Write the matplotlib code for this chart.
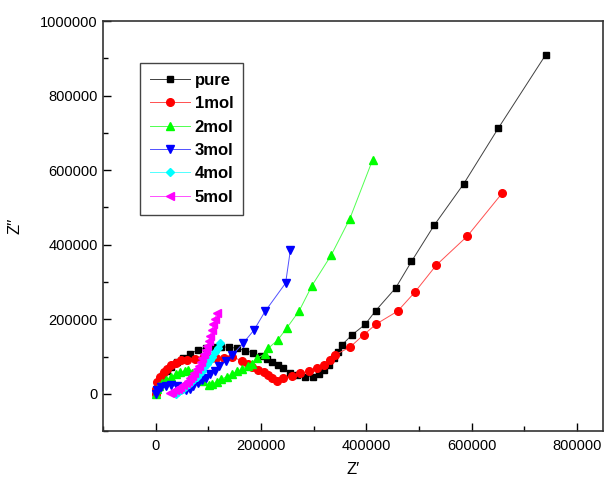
import numpy as np
import matplotlib.pyplot as plt
from matplotlib.ticker import MultipleLocator

plt.rcParams['font.family'] = ['Liberation Sans', 'DejaVu Sans']

# Nyquist data (Z', Z'')
pure_x = [0, 2000, 5000, 9000, 15000, 22000, 30000, 40000, 52000, 66000, 80000, 95000,
          110000, 125000, 140000, 155000, 170000, 185000, 200000, 212000, 222000, 232000,
          243000, 256000, 268000, 284000, 299000, 310000, 319000, 329000, 338000, 346000,
          354000, 373000, 398000, 418000, 456000, 486000, 529000, 585000, 651000, 741000]
pure_y = [0, 12000, 25000, 37000, 50000, 62000, 73000, 84000, 97000, 108000, 117000, 123000,
          126000, 126000, 125000, 122000, 116000, 110000, 101000, 92000, 85000, 78000,
          68000, 56000, 50000, 46000, 46000, 53000, 63000, 77000, 95000, 113000,
          131000, 158000, 186000, 223000, 284000, 355000, 452000, 563000, 713000, 910000]

mol1_x = [0, 1000, 3600, 9000, 16000, 22000, 29000, 38000, 48000, 60000, 75000, 90000,
          105000, 114000, 130000, 145000, 164000, 175000, 184000, 195000, 206000, 214000,
          221000, 231000, 243000, 259000, 275000, 291000, 307000, 319000, 331000, 341000,
          370000, 395000, 419000, 460000, 492000, 533000, 592000, 658000]
mol1_y = [0, 14000, 32000, 46000, 59000, 66000, 77000, 83000, 90000, 91000, 94000, 96000,
          96000, 95000, 97000, 100000, 88000, 80000, 72000, 65000, 58000, 50000,
          41000, 33000, 41000, 48000, 55000, 61000, 68000, 77000, 90000, 104000,
          126000, 158000, 187000, 222000, 272000, 345000, 423000, 538000]

mol2_x = [0, 3000, 7000, 13000, 20000, 29000, 38000, 47000, 56000, 62000, 70000, 80000,
          90000, 101000, 108000, 116000, 125000, 135000, 145000, 155000, 165000, 175000,
          183000, 192000, 208000, 214000, 232000, 249000, 273000, 297000, 334000, 369000, 412000]
mol2_y = [0, 12000, 22000, 29000, 37000, 45000, 52000, 58000, 62000, 63000, 56000, 45000,
          33000, 24000, 26000, 32000, 39000, 46000, 53000, 60000, 67000, 74000,
          81000, 95000, 107000, 122000, 144000, 176000, 223000, 290000, 373000, 470000, 627000]

mol3_x = [0, 3000, 10000, 20000, 30000, 40000, 50000, 58000, 65000, 72000, 80000, 88000,
          95000, 103000, 112000, 120000, 133000, 146000, 166000, 187000, 208000, 247000, 256000]
mol3_y = [0, 10000, 18000, 22000, 23000, 20000, 14000, 10000, 14000, 20000, 28000, 36000,
          43000, 52000, 62000, 75000, 88000, 104000, 135000, 171000, 221000, 297000, 385000]

mol4_x = [38000, 43000, 48000, 53000, 58000, 63000, 68000, 73000, 78000, 83000, 88000,
          93000, 98000, 103000, 108000, 113000, 118000, 123000]
mol4_y = [0, 4000, 9000, 14000, 20000, 26000, 32000, 39000, 46000, 54000, 62000,
          71000, 80000, 90000, 100000, 111000, 123000, 135000]

mol5_x = [27000, 32000, 37000, 42000, 47000, 52000, 57000, 62000, 66000, 70000, 74000, 78000,
          82000, 86000, 89000, 92000, 95000, 98000, 101000, 104000, 107000, 110000, 113000, 116000]
mol5_y = [1000, 5000, 9000, 13000, 18000, 23000, 29000, 35000, 42000, 49000, 57000, 66000,
          75000, 85000, 95000, 106000, 117000, 129000, 142000, 156000, 171000, 186000, 201000, 216000]

labels = ['pure', '1mol', '2mol', '3mol', '4mol', '5mol']

fig = plt.figure(figsize=(6.05, 4.8), dpi=100)
ax = fig.add_axes([0.170, 0.102, 0.827, 0.854])

lw = 0.7
ax.plot(pure_x, pure_y, color='#404040', lw=lw, marker='s', ms=5,
        mfc='black', mec='black', label=labels[0])
ax.plot(mol1_x, mol1_y, color='#ff5050', lw=lw, marker='o', ms=5.5,
        mfc='red', mec='red', label=labels[1])
ax.plot(mol2_x, mol2_y, color='#50ff50', lw=lw, marker='^', ms=6,
        mfc='#00ff00', mec='#00ff00', label=labels[2])
ax.plot(mol3_x, mol3_y, color='#5050ff', lw=lw, marker='v', ms=6,
        mfc='blue', mec='blue', label=labels[3])
ax.plot(mol4_x, mol4_y, color='#50ffff', lw=lw, marker='D', ms=4.5,
        mfc='cyan', mec='cyan', label=labels[4])
ax.plot(mol5_x, mol5_y, color='#ff50ff', lw=lw, marker='<', ms=6,
        mfc='magenta', mec='magenta', label=labels[5])

ax.set_xlim(-100000, 850000)
ax.set_ylim(-100000, 1000000)
ax.xaxis.set_major_locator(MultipleLocator(200000))
ax.xaxis.set_minor_locator(MultipleLocator(100000))
ax.yaxis.set_major_locator(MultipleLocator(200000))
ax.yaxis.set_minor_locator(MultipleLocator(100000))
ax.ticklabel_format(style='plain')
ax.tick_params(which='both', direction='in', top=False, right=False,
               labelsize=10.5, width=1.0)
ax.tick_params(which='major', length=6)
ax.tick_params(axis='x', which='major', pad=6)
ax.tick_params(which='minor', length=3.5)
for sp in ax.spines.values():
    sp.set_linewidth(1.2)
    sp.set_color('#333333')

ax.set_xlabel('Z′', fontsize=12, labelpad=6)
ax.set_ylabel('Z′′', fontsize=12, labelpad=13)

leg = ax.legend(loc='upper left', bbox_to_anchor=(0.074, 0.898), borderaxespad=0,
                prop={'weight': 'bold', 'size': 12}, fancybox=False, framealpha=1,
                edgecolor='#444444', handlelength=2.4, labelspacing=0.5,
                borderpad=0.6, handletextpad=0.3)
leg.get_frame().set_linewidth(1.0)

fig.savefig('out.png', dpi=100)
